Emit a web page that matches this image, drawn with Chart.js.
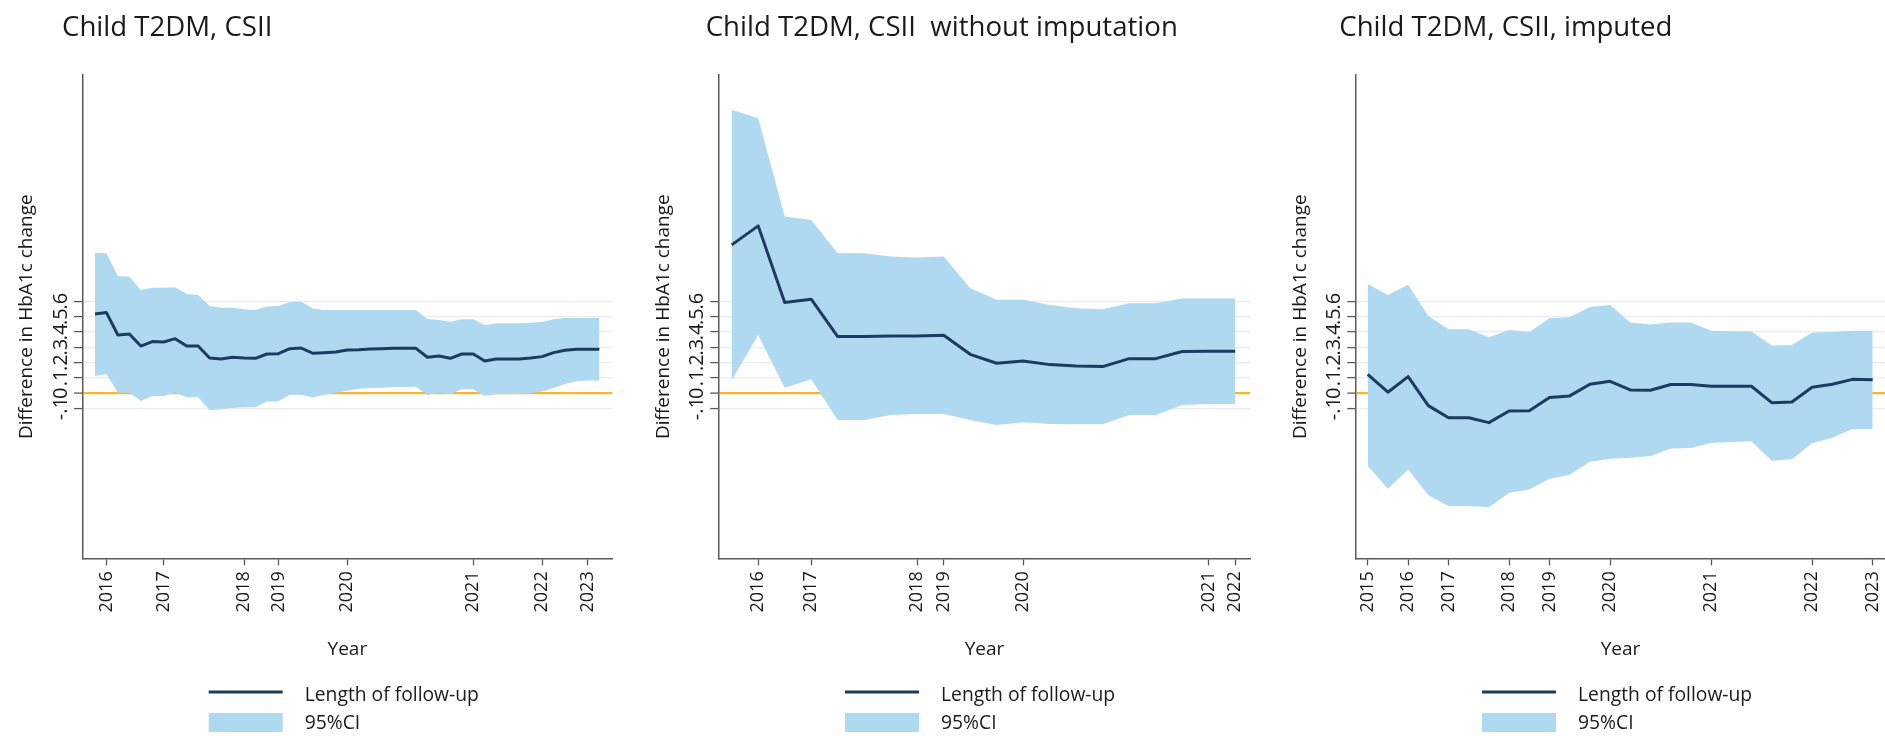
<!DOCTYPE html>
<html>
<head>
<meta charset="utf-8">
<script src="https://cdn.jsdelivr.net/npm/chart.js@4/dist/chart.umd.min.js"></script>
<style>
  html, body { margin: 0; padding: 0; background: #ffffff; }
  #wrap { position: relative; width: 1885px; height: 736px; overflow: hidden; background: #ffffff; }
  .panel { position: absolute; top: 0; height: 736px; }
  canvas { display: block; }
</style>
</head>
<body>
<div id="wrap">
  <div class="panel" style="left:0px;width:630px"><canvas id="c1" width="630" height="736"></canvas></div>
  <div class="panel" style="left:630px;width:630px"><canvas id="c2" width="630" height="736"></canvas></div>
  <div class="panel" style="left:1260px;width:625px"><canvas id="c3" width="625" height="736"></canvas></div>
</div>
<script>
// ---- shared y axis ----
const yTickVals   = [-0.1, 0, 0.1, 0.2, 0.3, 0.4, 0.5, 0.6];
const yTickLabels = ['-.1', '0', '.1', '.2', '.3', '.4', '.5', '.6'];
const Y_MIN = -1.075;
const Y_MAX = 2.074;

// ---- panel 1: Child T2DM, CSII ----
const p1TickIdx    = [1, 6, 13, 16, 22, 33, 39, 43];
const p1TickLabels = ['2016', '2017', '2018', '2019', '2020', '2021', '2022', '2023'];
const p1Mean  = [0.517, 0.526, 0.380, 0.387, 0.308, 0.337, 0.334, 0.356, 0.308, 0.308,
                 0.230, 0.224, 0.235, 0.230, 0.228, 0.256, 0.258, 0.291, 0.295, 0.261,
                 0.265, 0.269, 0.282, 0.284, 0.289, 0.291, 0.293, 0.293, 0.293, 0.235,
                 0.243, 0.228, 0.256, 0.256, 0.211, 0.224, 0.224, 0.224, 0.230, 0.239,
                 0.265, 0.280, 0.287, 0.287, 0.287];
const p1Upper = [0.916, 0.912, 0.764, 0.760, 0.673, 0.688, 0.688, 0.691, 0.647, 0.641,
                 0.569, 0.558, 0.558, 0.547, 0.543, 0.565, 0.569, 0.595, 0.597, 0.552,
                 0.543, 0.543, 0.543, 0.543, 0.543, 0.543, 0.543, 0.543, 0.543, 0.484,
                 0.478, 0.467, 0.482, 0.482, 0.443, 0.456, 0.456, 0.456, 0.460, 0.465,
                 0.482, 0.491, 0.491, 0.491, 0.491];
const p1Lower = [0.113, 0.126, 0.004, 0.004, -0.050, -0.017, -0.017, 0.004, -0.026, -0.026,
                 -0.109, -0.104, -0.096, -0.091, -0.091, -0.054, -0.052, -0.009, -0.009, -0.028,
                 -0.009, 0.004, 0.017, 0.030, 0.035, 0.037, 0.039, 0.041, 0.043, -0.011,
                 0.004, -0.004, 0.026, 0.026, -0.017, -0.004, -0.004, -0.004, 0.000, 0.011,
                 0.035, 0.061, 0.078, 0.083, 0.083];

// ---- panel 2: without imputation ----
const p2TickIdx    = [1, 3, 7, 8, 11, 18, 19];
const p2TickLabels = ['2016', '2017', '2018', '2019', '2020', '2021', '2022'];
const p2Mean  = [0.967, 1.091, 0.591, 0.613, 0.370, 0.370, 0.374, 0.374, 0.378, 0.254,
                 0.196, 0.211, 0.187, 0.178, 0.174, 0.226, 0.226, 0.272, 0.274, 0.274];
const p2Upper = [1.848, 1.793, 1.152, 1.130, 0.913, 0.913, 0.891, 0.885, 0.891, 0.685,
                 0.609, 0.609, 0.576, 0.554, 0.548, 0.587, 0.587, 0.617, 0.617, 0.617];
const p2Lower = [0.087, 0.380, 0.037, 0.091, -0.174, -0.174, -0.141, -0.135, -0.135, -0.174,
                 -0.207, -0.189, -0.200, -0.202, -0.202, -0.141, -0.141, -0.076, -0.070, -0.070];

// ---- panel 3: imputed ----
const p3TickIdx    = [0, 2, 4, 7, 9, 12, 17, 22, 25];
const p3TickLabels = ['2015', '2016', '2017', '2018', '2019', '2020', '2021', '2022', '2023'];
const p3Mean  = [0.124, 0.007, 0.109, -0.080, -0.159, -0.159, -0.191, -0.115, -0.113, -0.028,
                 -0.017, 0.059, 0.078, 0.022, 0.020, 0.057, 0.057, 0.046, 0.046, 0.046,
                 -0.061, -0.057, 0.039, 0.059, 0.091, 0.089];
const p3Upper = [0.713, 0.641, 0.707, 0.504, 0.417, 0.417, 0.365, 0.413, 0.400, 0.489,
                 0.496, 0.563, 0.576, 0.461, 0.448, 0.461, 0.461, 0.407, 0.404, 0.402,
                 0.311, 0.315, 0.396, 0.400, 0.407, 0.407];
const p3Lower = [-0.474, -0.622, -0.496, -0.665, -0.735, -0.735, -0.743, -0.648, -0.626, -0.557,
                 -0.530, -0.446, -0.426, -0.420, -0.409, -0.359, -0.357, -0.324, -0.317, -0.313,
                 -0.439, -0.430, -0.326, -0.289, -0.233, -0.233];

// ---- styling ----
const FONT = "'Open Sans', 'Noto Sans', sans-serif";
const TEXT = '#1a1a1a';
const AXIS = '#5a5a5a';
const GRID = '#ececec';
const ZERO = 'rgb(246,182,52)';
const CI_FILL = 'rgb(174,217,241)';
const LINE = 'rgb(28,60,95)';

// Titles and the two-entry legend under each panel
const panelDecor = {
  id: 'panelDecor',
  afterDraw(chart, args, opts) {
    const { ctx, chartArea } = chart;
    const ds = chart.data.datasets;
    ctx.save();
    ctx.fillStyle = TEXT;
    ctx.textAlign = 'left';
    ctx.textBaseline = 'alphabetic';
    ctx.font = `27.6px ${FONT}`;
    ctx.fillText(opts.title, opts.titleX, 36);

    const lx = chartArea.left + 126;
    const lw = 74;
    ctx.strokeStyle = ds[2].borderColor;
    ctx.lineWidth = ds[2].borderWidth;
    ctx.beginPath();
    ctx.moveTo(lx, 692);
    ctx.lineTo(lx + lw, 692);
    ctx.stroke();
    ctx.fillStyle = ds[0].backgroundColor;
    ctx.fillRect(lx, 713, lw, 19);

    ctx.fillStyle = TEXT;
    ctx.font = `19.3px ${FONT}`;
    ctx.textBaseline = 'middle';
    ctx.fillText(ds[2].label, lx + 96, 696);
    ctx.fillText(ds[0].label, lx + 96, 724);
    ctx.restore();
  }
};

function buildPanel(id, p) {
  const pts = arr => arr.map((v, i) => ({ x: i, y: v }));
  return new Chart(document.getElementById(id), {
    type: 'line',
    data: {
      datasets: [
        { label: '95%CI', data: pts(p.upper), fill: '+1', backgroundColor: CI_FILL, order: 2,
          borderWidth: 0, borderColor: 'rgba(0,0,0,0)', pointRadius: 0, tension: 0 },
        { label: 'lower', data: pts(p.lower), fill: false, borderWidth: 0, order: 3,
          borderColor: 'rgba(0,0,0,0)', pointRadius: 0, tension: 0 },
        { label: 'Length of follow-up', data: pts(p.mean), fill: false, borderColor: LINE, order: 0,
          borderWidth: 3, pointRadius: 0, tension: 0, borderJoinStyle: 'round', borderCapStyle: 'butt' }
      ]
    },
    options: {
      responsive: false,
      animation: false,
      events: [],
      layout: { padding: { top: 75, bottom: 0, left: 0, right: p.padRight } },
      plugins: {
        legend: { display: false },
        tooltip: { enabled: false },
        title: { display: false },
        panelDecor: { title: p.title, titleX: p.titleX }
      },
      scales: {
        x: {
          type: 'linear',
          min: p.xMin,
          max: p.xMax,
          afterBuildTicks: s => { s.ticks = p.tickIdx.map(v => ({ value: v })); },
          afterFit: s => { s.height = 736 - 558.3; s.paddingLeft = 0; s.paddingRight = 0; },
          ticks: {
            autoSkip: false, minRotation: 90, maxRotation: 90, padding: 6,
            color: TEXT, font: { family: FONT, size: 18 },
            callback: v => p.tickLabels[p.tickIdx.indexOf(v)]
          },
          grid: { drawOnChartArea: false, drawTicks: true, tickLength: 7, tickColor: AXIS, tickWidth: 1.3 },
          border: { display: true, color: AXIS, width: 1.5 },
          title: { display: true, text: 'Year', color: TEXT, font: { family: FONT, size: 19 },
                   padding: { top: 0, bottom: 74.6 } }
        },
        y: {
          type: 'linear',
          min: Y_MIN,
          max: Y_MAX,
          afterBuildTicks: s => { s.ticks = yTickVals.map(v => ({ value: v })); },
          afterFit: s => { s.width = p.yWidth; s.paddingTop = 0; s.paddingBottom = 0; },
          ticks: {
            autoSkip: false, minRotation: 90, maxRotation: 90, crossAlign: 'center', padding: 1,
            color: TEXT, font: { family: FONT, size: 20 },
            callback: v => yTickLabels[yTickVals.indexOf(v)]
          },
          grid: {
            color: c => (c.tick && c.tick.value === 0 ? ZERO : GRID),
            lineWidth: c => (c.tick && c.tick.value === 0 ? 2.2 : 1.2),
            drawTicks: true, tickLength: 8.7, tickColor: AXIS, tickWidth: 1.3
          },
          border: { display: true, color: AXIS, width: 1.5 },
          title: { display: true, text: 'Difference in HbA1c change', color: TEXT,
                   font: { family: FONT, size: 19 },
                   padding: { top: p.yWidth - 55.7 - 11.4, bottom: 0 } }
        }
      }
    },
    plugins: [panelDecor]
  });
}

buildPanel('c1', {
  title: 'Child T2DM, CSII', titleX: 62,
  yWidth: 82.7, padRight: 18, xMin: -1.07, xMax: 45.1,
  tickIdx: p1TickIdx, tickLabels: p1TickLabels,
  mean: p1Mean, upper: p1Upper, lower: p1Lower
});
buildPanel('c2', {
  title: 'Child T2DM, CSII  without imputation', titleX: 75.7,
  yWidth: 89, padRight: 10, xMin: -0.48, xMax: 19.56,
  tickIdx: p2TickIdx, tickLabels: p2TickLabels,
  mean: p2Mean, upper: p2Upper, lower: p2Lower
});
buildPanel('c3', {
  title: 'Child T2DM, CSII, imputed', titleX: 79.3,
  yWidth: 96, padRight: 0, xMin: -0.58, xMax: 25.61,
  tickIdx: p3TickIdx, tickLabels: p3TickLabels,
  mean: p3Mean, upper: p3Upper, lower: p3Lower
});
</script>
</body>
</html>
